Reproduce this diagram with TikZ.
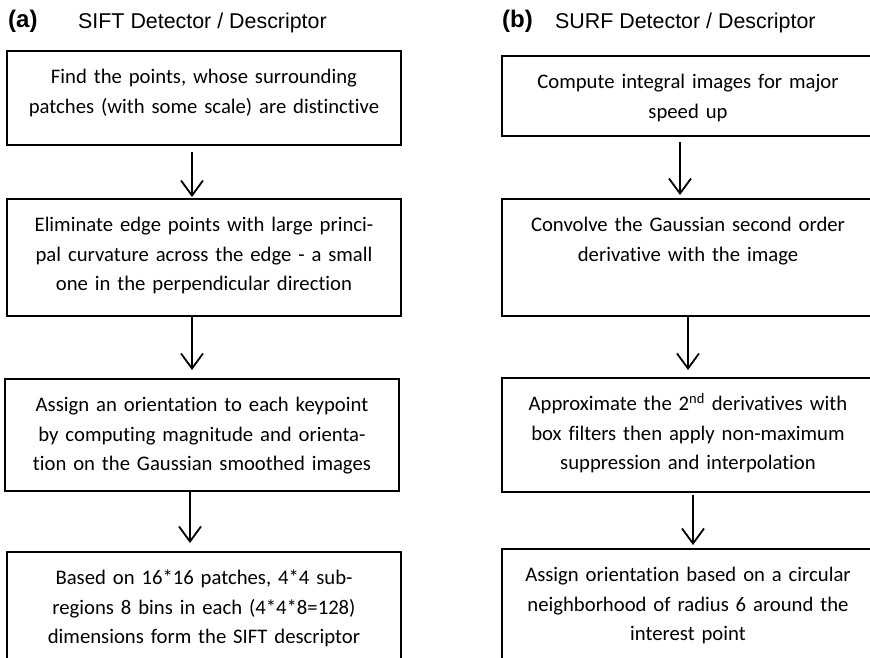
\documentclass[tikz,border=0pt]{standalone}
\usepackage{fontspec}
\setmainfont{Carlito}[Ligatures=NoCommon]
\newfontfamily\headfont{Liberation Sans}
\usetikzlibrary{arrows.meta}

\begin{document}
\begin{tikzpicture}
        [x=1pt, y=-1pt,
        leftbox/.style={draw, line width=1.8pt, anchor=north, inner xsep=4pt, inner ysep=0pt, text width=386pt, align=center, text height=33pt, font=\fontsize{20.7}{29.5}\selectfont},
        rightbox/.style={draw, line width=1.8pt, anchor=north, inner xsep=4pt, inner ysep=0pt, text width=364pt, align=center, text height=33pt, font=\fontsize{20.7}{29.5}\selectfont},
        tag/.style={anchor=base west, inner sep=0pt, font=\headfont\fontsize{24}{26}\selectfont\bfseries},
        title/.style={anchor=base west, inner sep=0pt, font=\headfont\fontsize{21.4}{24}\selectfont},
        flow/.style={line width=1.8pt, -{Straight Barb[length=15pt, width=22pt, line width=1.8pt]}}]
        \useasboundingbox (0,0) rectangle (870,657);
        \clip (0,0) rectangle (870,657);

        % headings
        \node[tag] (tagA) at (8,27) {(a)};
        \node[title] (titleA) at (78,28) {SIFT Detector / Descriptor};
        \node[tag] (tagB) at (502,27) {(b)};
        \node[title] (titleB) at (555,28) {SURF Detector / Descriptor};

        % SIFT steps
        \node[leftbox, text depth=61pt] (a1) at (204,50) {Find the points, whose surrounding\\patches (with some scale) are distinctive};
        \node[leftbox, text depth=84pt] (a2) at (204,198) {Eliminate edge points with large princi-\\pal curvature across the edge - a small\\one in the perpendicular direction};
        \node[leftbox, text depth=79pt] (a3) at (202,378) {Assign an orientation to each keypoint\\by computing magnitude and orienta-\\tion on the Gaussian smoothed images};
        \node[leftbox, text depth=130pt] (a4) at (204,551) {Based on 16*16 patches, 4*4 sub-\\regions 8 bins in each (4*4*8=128)\\dimensions form the SIFT descriptor};

        % SURF steps
        \node[rightbox, text depth=47pt] (b1) at (688,55) {Compute integral images for major\\speed up};
        \node[rightbox, text depth=84pt] (b2) at (688,198) {Convolve the Gaussian second order\\derivative with the image};
        \node[rightbox, text depth=81pt] (b3) at (688,377) {Approximate the 2\textsuperscript{nd} derivatives with\\box filters then apply non-maximum\\suppression and interpolation};
        \node[rightbox, text depth=130pt] (b4) at (688,548) {Assign orientation based on a circular\\neighborhood of radius 6 around the\\interest point};

        \draw[flow, shorten <=6pt, shorten >=1pt] ([xshift=-12pt]a1.south) -- ([xshift=-12pt]a2.north);
        \draw[flow, shorten >=8pt] ([xshift=-12pt]a2.south) -- ([xshift=-10pt]a3.north);
        \draw[flow, shorten >=8pt] ([xshift=-12pt]a3.south) -- ([xshift=-14pt]a4.north);

        \draw[flow, shorten <=5pt, shorten >=3pt] ([xshift=-8pt]b1.south) -- ([xshift=-8pt]b2.north);
        \draw[flow, shorten >=7pt] (b2.south) -- (b3.north);
        \draw[flow, shorten <=2pt, shorten >=3pt] ([xshift=5pt]b3.south) -- ([xshift=5pt]b4.north);

    \end{tikzpicture}
\end{document}
